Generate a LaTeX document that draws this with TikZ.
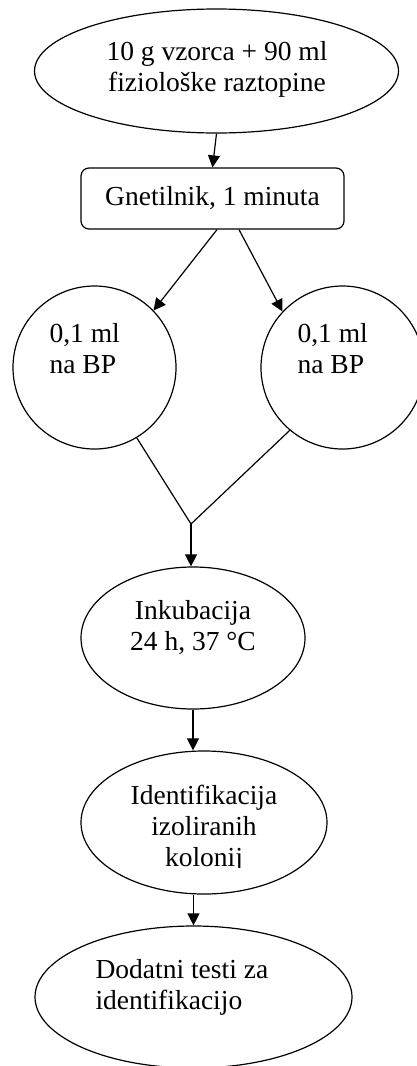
\documentclass[tikz,border=0pt]{standalone}
\usepackage{fontspec}
\setmainfont{Liberation Serif}
\usetikzlibrary{shapes.geometric,arrows.meta}
\begin{document}
\begin{tikzpicture}[x=1pt,y=-1pt,line width=1.2pt,
  oval/.style={draw,ellipse,inner sep=0pt},
  plate/.style={draw,circle,inner sep=0pt,minimum size=163pt},
  stepbox/.style={draw,rounded corners=8pt,minimum width=263pt,minimum height=61pt,inner sep=0pt},
  txt/.style={font=\fontsize{27.5}{31}\selectfont,inner sep=0pt},
  arr/.style={-{Triangle[length=12pt,width=12pt]}}]
\clip (0,0) rectangle (417,1066);

% sample preparation
\node[oval,minimum width=364pt,minimum height=124pt] (src) at (216.5,71) {};
\node[txt,align=center] (srct) at (217,69) {10 g vzorca + 90 ml\\fiziološke raztopine};
\node[stepbox,txt] (mix) at (212.5,198.5) {Gnetilnik, 1 minuta};

% two plates
\node[plate] (p1) at (94.5,367.5) {};
\node[plate] (p2) at (342.5,367.5) {};
\node[txt,align=left,anchor=west] (p1t) at (49,349) {0,1 ml\\na BP};
\node[txt,align=left,anchor=west] (p2t) at (297,349) {0,1 ml\\na BP};
\coordinate (join) at (191,524);

% incubation and identification
\node[oval,minimum width=224pt,minimum height=142pt] (inc) at (193,638) {};
\node[txt,align=center] (inct) at (193,627.5) {Inkubacija\\24 h, 37 °C};
\node[oval,minimum width=246pt,minimum height=143pt] (id) at (204,822.5) {};
\begin{scope}
  \clip (0,0) rectangle (417,867);
  \node[txt,align=center] (idt) at (204,829) {Identifikacija\\izoliranih\\kolonij};
\end{scope}
\node[oval,minimum width=317pt,minimum height=142pt] (ext) at (193.5,997) {};
\node[txt,align=left,anchor=west] (extt) at (95,987.5) {Dodatni testi za\\identifikacijo};

% connectors
\draw[arr] (src.south) -- (mix.north);
\draw[arr] ([xshift=4.5pt]mix.south) -- (p1.44);
\draw[arr] ([xshift=26.5pt]mix.south) -- (p2.137);
\draw (p1.-59) -- (join) -- (p2.230);
\draw[arr] (join) -- (join |- inc.north);
\draw[arr] (inc.south) -- (inc.south |- id.north);
\draw[arr] (ext.north |- id.south) -- (ext.north);
\end{tikzpicture}
\end{document}
